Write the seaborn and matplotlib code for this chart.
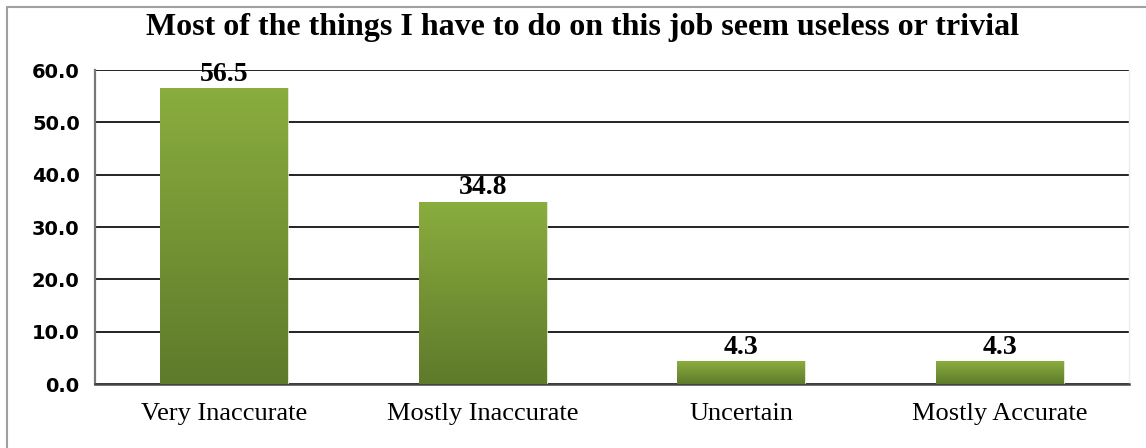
import numpy as np
import pandas as pd
import matplotlib
matplotlib.use("Agg")
import matplotlib.pyplot as plt
import seaborn as sns
from matplotlib.colors import LinearSegmentedColormap
from matplotlib.lines import Line2D

# Data
categories = ['Very Inaccurate', 'Mostly Inaccurate', 'Uncertain', 'Mostly Accurate']
percentages = [56.5, 34.8, 4.3, 4.3]
y_ticks = [0, 10, 20, 30, 40, 50, 60]
title = 'Most of the things I have to do on this job seem useless or trivial'

df = pd.DataFrame({'category': categories, 'pct': percentages})

sns.set_style('white')
plt.rcParams['font.family'] = ['Liberation Serif', 'DejaVu Serif']
plt.rcParams['text.color'] = 'black'
plt.rcParams['xtick.color'] = 'black'
plt.rcParams['ytick.color'] = 'black'

fig = plt.figure(figsize=(11.46, 4.48), dpi=100)
ax = fig.add_axes([95 / 1146, 64 / 448, 1034 / 1146, 314 / 448])

sns.barplot(data=df, x='category', y='pct', order=categories,
            color='#7fa03a', width=0.495, saturation=1, ax=ax, zorder=3)

# vertical green gradient inside each bar
cmap = LinearSegmentedColormap.from_list('grn', ['#5e7a2b', '#8aad3e'])
grad = np.linspace(0, 1, 256).reshape(-1, 1)
for p in ax.patches:
    x0, y0 = p.get_x(), p.get_y()
    w, h = p.get_width(), p.get_height()
    im = ax.imshow(grad, cmap=cmap, origin='lower', aspect='auto',
                   extent=[x0, x0 + w, y0, y0 + h], zorder=3)
    im.set_clip_path(p)
    p.set_facecolor('none')
    p.set_edgecolor('#d9e6c4')
    p.set_linewidth(0.6)

ax.set_xlim(-0.5, len(categories) - 0.5)
ax.set_ylim(0, 60)
ax.set_yticks(y_ticks)
ax.set_yticklabels([f'{v:.1f}' for v in y_ticks], fontfamily='DejaVu Sans',
                   fontweight='bold', fontsize=14)
ax.yaxis.grid(True, color='#222222', linewidth=1.4, zorder=1)
ax.set_axisbelow(True)

# bottom ticks at category boundaries
ax.set_xticks(np.arange(-0.5, len(categories), 1.0), minor=True)
ax.set_xticks(range(len(categories)))
ax.set_xticklabels(categories, fontsize=19)
ax.tick_params(axis='x', which='major', length=0, pad=14)
ax.tick_params(axis='x', which='minor', direction='out', length=7,
               width=1.6, color='#555555')
ax.tick_params(axis='y', direction='out', length=8, width=1.4,
               color='#222222', pad=3)
ax.set_xlabel('')
ax.set_ylabel('')

ax.spines['top'].set_visible(False)
ax.spines['right'].set_color('#eeeeee')
ax.spines['right'].set_linewidth(1.0)
ax.spines['left'].set_color('#777777')
ax.spines['left'].set_linewidth(1.6)
ax.spines['bottom'].set_color('#444444')
ax.spines['bottom'].set_linewidth(1.8)

for i, v in enumerate(percentages):
    ax.text(i, v + 0.3, f'{v:.1f}', ha='center', va='bottom',
            fontsize=20, fontweight='bold', zorder=5)

fig.text(583 / 1146, 1 - 28 / 448, title, ha='center', va='center',
         fontsize=23, fontweight='bold')

# outer chart border (top and left edges only visible in the crop)
fig.lines.append(Line2D([7 / 1146, 1.0], [1 - 7 / 448, 1 - 7 / 448],
                        transform=fig.transFigure, color='#a0a0a0', linewidth=1.5))
fig.lines.append(Line2D([7 / 1146, 7 / 1146], [0.0, 1 - 7 / 448],
                        transform=fig.transFigure, color='#a0a0a0', linewidth=1.5))

fig.savefig('out.png', dpi=100)
